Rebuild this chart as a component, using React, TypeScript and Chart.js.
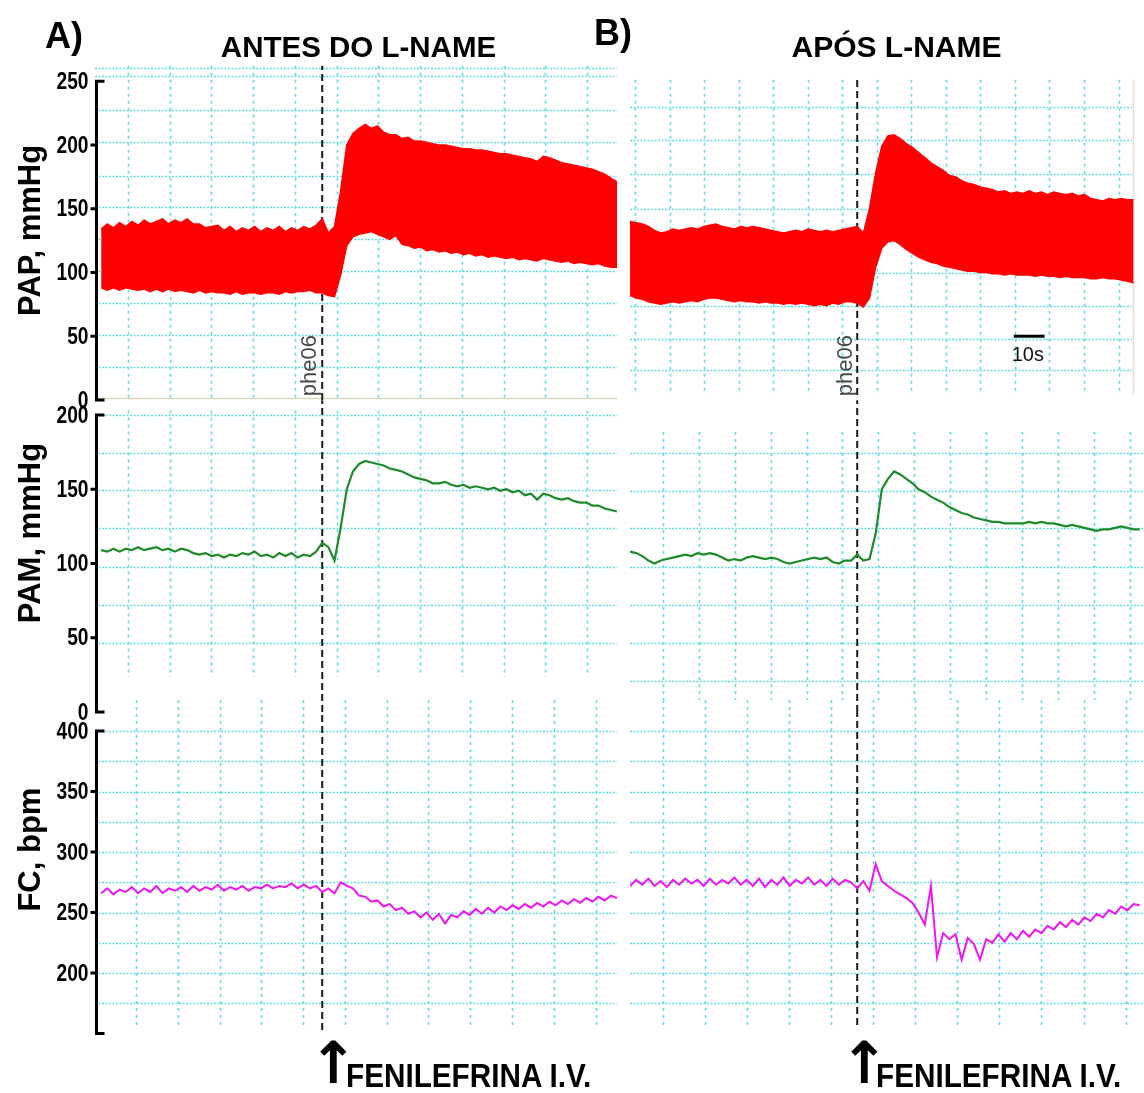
import React, { useEffect, useRef } from 'react';
import { Chart, registerables } from 'chart.js';

Chart.register(...registerables);

const SANS = '"Liberation Sans", Arial, Helvetica, sans-serif';

const RED = '#ff0000';
const GREEN = '#1f8a2a';
const MAGENTA = '#f014f0';
const GRID_COLOR = 'rgb(95, 222, 230)';

// ---------- time axis (seconds) ----------
const A_START = 2;
const B_START = 0;
const STEP = 2;
const EVENT_T = 74;
const A_X_MAX = 170;
const B_X_MAX = 167.4;

// ---------- y tick labels ----------
const PAP_TICKS = [0, 50, 100, 150, 200, 250];
const PAM_TICKS = [0, 50, 100, 150, 200];
const FC_TICKS = [200, 250, 300, 350, 400];

// ---------- A) ANTES DO L-NAME ----------
const PAP_A_SYS = [
  134, 138, 135, 139, 136, 140, 137, 141, 138, 140,
  142, 138, 141, 139, 142, 138, 138, 135, 136, 137,
  133, 136, 132, 135, 133, 136, 132, 135, 133, 136,
  132, 135, 133, 136, 134, 137, 142, 131, 136, 164,
  200, 209, 213, 216, 213, 215, 210, 208, 208, 205,
  206, 203, 203, 202, 201, 200, 200, 199, 198, 197,
  197, 196, 196, 195, 194, 193, 193, 192, 191, 190,
  189, 187, 191, 190, 188, 186, 185, 184, 183, 182,
  181, 179, 177, 174, 171,
];
const PAP_A_DIA = [
  88, 86, 88, 86, 88, 87, 86, 87, 85, 87,
  85, 87, 85, 86, 85, 84, 86, 84, 85, 84,
  84, 83, 85, 83, 84, 84, 83, 84, 84, 83,
  85, 84, 85, 85, 86, 84, 84, 82, 81, 98,
  121, 128, 130, 131, 132, 130, 128, 126, 129, 122,
  121, 119, 120, 117, 118, 116, 117, 115, 116, 114,
  115, 113, 114, 112, 113, 112, 111, 112, 110, 111,
  110, 109, 111, 110, 109, 108, 109, 107, 108, 107,
  106, 107, 105, 104, 104,
];
const PAM_A = [
  109, 108, 110, 108, 110, 109, 111, 109, 110, 111,
  109, 110, 108, 110, 109, 107, 106, 107, 105, 106,
  104, 106, 105, 107, 106, 108, 105, 106, 104, 107,
  105, 107, 104, 106, 105, 108, 114, 111, 102, 124,
  150, 162, 167, 169, 168, 167, 166, 164, 163, 162,
  160, 158, 157, 156, 154, 154, 155, 153, 152, 153,
  151, 152, 151, 150, 151, 149, 150, 148, 149, 146,
  147, 143, 147, 146, 144, 143, 144, 142, 141, 141,
  139, 139, 137, 136, 135,
];
const FC_A = [
  266, 270, 265, 269, 267, 271, 266, 270, 267, 272,
  266, 270, 268, 271, 267, 272, 268, 271, 269, 273,
  268, 271, 269, 272, 268, 271, 270, 273, 270, 272,
  271, 274, 270, 273, 270, 272, 267, 270, 266, 275,
  272, 270, 264, 263, 259, 260, 255, 257, 252, 254,
  249, 251, 246, 250, 244, 249, 241, 248, 246, 251,
  248, 253, 249, 254, 250, 255, 252, 256, 253, 257,
  254, 258, 255, 259, 256, 260, 257, 261, 258, 262,
  259, 263, 260, 264, 262,
];

// ---------- B) APÓS L-NAME ----------
const PAP_B_SYS = [
  140, 139, 138, 136, 133, 131, 132, 134, 133, 134,
  135, 134, 136, 137, 138, 136, 135, 134, 136, 135,
  136, 135, 134, 133, 132, 131, 132, 133, 132, 134,
  133, 132, 133, 132, 133, 134, 135, 136, 131, 150,
  178, 199, 207, 208, 205, 201, 198, 194, 190, 186,
  183, 180, 176, 175, 172, 170, 169, 167, 166, 165,
  163, 164, 162, 163, 162, 164, 162, 163, 161, 163,
  162, 161, 162, 160, 161, 158, 157, 156, 158, 157,
  158, 157, 157,
];
const PAP_B_DIA = [
  82, 80, 79, 77, 76, 75, 76, 77, 76, 77,
  78, 77, 79, 80, 80, 79, 78, 77, 78, 77,
  77, 76, 77, 76, 76, 75, 76, 75, 76, 75,
  74, 75, 74, 76, 75, 77, 77, 76, 73, 80,
  104, 119, 124, 125, 122, 118, 115, 112, 110, 108,
  107, 105, 104, 103, 102, 101, 101, 100, 100, 99,
  99, 98, 99, 98, 98, 98, 97, 98, 97, 97,
  96, 97, 96, 96, 96, 95, 95, 96, 95, 95,
  94, 93, 92,
];
const PAM_B = [
  108, 107, 105, 102, 100, 102, 103, 104, 105, 106,
  105, 107, 106, 107, 106, 104, 102, 103, 102, 104,
  105, 104, 103, 104, 103, 101, 100, 101, 102, 103,
  104, 103, 104, 101, 100, 102, 102, 106, 102, 103,
  120, 150, 157, 162, 160, 157, 154, 150, 148, 145,
  143, 141, 138, 136, 134, 133, 131, 130, 129, 128,
  128, 127, 127, 127, 127, 128, 127, 128, 127, 127,
  126, 125, 126, 125, 124, 123, 122, 123, 123, 124,
  125, 124, 123, 123,
];
const FC_B = [
  272, 277, 273, 278, 272, 276, 271, 277, 273, 278,
  274, 277, 272, 278, 273, 277, 274, 279, 273, 277,
  272, 278, 271, 277, 273, 279, 272, 277, 274, 279,
  273, 277, 272, 278, 273, 277, 275, 270, 276, 268,
  290, 276, 272, 268, 265, 262, 258, 250, 240, 272,
  213, 233, 228, 232, 211, 229, 224, 211, 228, 225,
  232, 226, 233, 228, 235, 230, 236, 233, 239, 236,
  242, 238, 244, 240, 246, 243, 249, 246, 252, 249,
  255, 252, 257, 256,
];

// ---------- recorder grid (data units) ----------
const GRID_A_X_TOP = [10.7, 24.3, 37.9, 51.5, 65.1, 78.7, 92.3, 105.9, 119.5, 133.1, 146.7, 160.3];
const GRID_A_X_FC = [13.4, 27.0, 40.6, 54.2, 67.8, 81.4, 95.0, 108.6, 122.2, 135.8, 149.4, 163.0];
const GRID_B_X_PAP = [1.6, 12.9, 24.1, 35.4, 46.6, 57.9, 69.1, 80.4, 91.6, 102.9, 114.1, 125.4, 136.6, 147.9, 159.1];
const GRID_B_X_PAM = [10.7, 22.4, 34.1, 45.8, 57.5, 69.2, 80.9, 92.6, 104.3, 116.0, 127.7, 139.4, 151.1, 162.8];
const GRID_B_X_FC = [10.7, 24.4, 38.1, 51.8, 65.5, 79.2, 92.9, 106.6, 120.3, 134.0, 147.7, 161.4];
const GRID_A_Y_PAP = [26, 51, 76, 101, 126, 151, 176, 202, 227, 254, 260];
const GRID_B_Y_PAP = [23.5, 48, 74, 99.5, 124, 150, 177, 204, 229.6];
const GRID_A_Y_PAM = [46.5, 72, 97.6, 123.9, 149.5, 174.4, 200];
const GRID_B_Y_PAM = [20.9, 46.5, 72, 97.6, 123.9, 148.8, 174.4];
const GRID_Y_FC = [175, 200, 225, 250, 275, 300, 325, 350, 375, 400];

type Decor = {
  hLines: number[];
  hRange: [number, number];
  vLines: number[];
  vRange: [number, number];
  axis?: { from: number; to: number; ticks: number[]; labels: number[] };
  title?: { text: string; at: number; x: number };
  zeroLine?: { at: number; from: number; to: number };
  border?: { t: number; from: number; to: number };
  marker?: { text: string; t: number; at: number; dx: number };
  scaleBar?: { t0: number; t1: number; at: number; label: string; labelT: number; labelAt: number };
};

function makeDecor(d: Decor) {
  return {
    id: 'decor',
    beforeDatasetsDraw(chart: any) {
      const { ctx, scales } = chart;
      const xs = scales.x;
      const ys = scales.y;
      ctx.save();
      if (d.zeroLine) {
        const py = Math.round(ys.getPixelForValue(d.zeroLine.at)) + 0.5;
        ctx.strokeStyle = '#ddd6c4';
        ctx.lineWidth = 1.5;
        ctx.setLineDash([]);
        ctx.beginPath();
        ctx.moveTo(xs.getPixelForValue(d.zeroLine.from), py);
        ctx.lineTo(xs.getPixelForValue(d.zeroLine.to), py);
        ctx.stroke();
      }
      if (d.border) {
        const px = Math.round(xs.getPixelForValue(d.border.t)) + 0.5;
        ctx.strokeStyle = '#e4e0d4';
        ctx.lineWidth = 1.5;
        ctx.setLineDash([]);
        ctx.beginPath();
        ctx.moveTo(px, ys.getPixelForValue(d.border.to));
        ctx.lineTo(px, ys.getPixelForValue(d.border.from));
        ctx.stroke();
      }
      ctx.strokeStyle = GRID_COLOR;
      ctx.lineWidth = 1.5;
      ctx.setLineDash([2, 1.5]);
      const hx0 = xs.getPixelForValue(d.hRange[0]);
      const hx1 = xs.getPixelForValue(d.hRange[1]);
      for (const v of d.hLines) {
        const py = Math.round(ys.getPixelForValue(v)) + 0.5;
        ctx.beginPath();
        ctx.moveTo(hx0, py);
        ctx.lineTo(hx1, py);
        ctx.stroke();
      }
      ctx.lineWidth = 1.6;
      ctx.setLineDash([3, 4]);
      const vy0 = ys.getPixelForValue(d.vRange[1]);
      const vy1 = ys.getPixelForValue(d.vRange[0]);
      for (const t of d.vLines) {
        const px = Math.round(xs.getPixelForValue(t)) + 0.5;
        ctx.beginPath();
        ctx.moveTo(px, vy0);
        ctx.lineTo(px, vy1);
        ctx.stroke();
      }
      ctx.restore();
    },
    afterDraw(chart: any) {
      const { ctx, scales, chartArea } = chart;
      const xs = scales.x;
      const ys = scales.y;
      ctx.save();
      ctx.setLineDash([]);
      if (d.axis) {
        const ax = chartArea.left + 1.5;
        const yTop = ys.getPixelForValue(d.axis.to);
        const yBot = ys.getPixelForValue(d.axis.from);
        ctx.strokeStyle = '#000';
        ctx.lineWidth = 3;
        ctx.lineJoin = 'miter';
        ctx.beginPath();
        ctx.moveTo(ax + 8, yTop);
        ctx.lineTo(ax, yTop);
        ctx.lineTo(ax, yBot);
        ctx.lineTo(ax + 8, yBot);
        ctx.stroke();
        ctx.beginPath();
        for (const v of d.axis.ticks) {
          const py = ys.getPixelForValue(v);
          ctx.moveTo(ax - 6, py);
          ctx.lineTo(ax, py);
        }
        ctx.stroke();
        // tick labels: condensed bold numerals
        ctx.fillStyle = '#000';
        ctx.font = `bold 24px ${SANS}`;
        ctx.textAlign = 'right';
        ctx.textBaseline = 'middle';
        for (const v of d.axis.labels) {
          const py = ys.getPixelForValue(v);
          ctx.save();
          ctx.translate(ax - 8, py + 1);
          ctx.scale(0.8, 1);
          ctx.fillText(String(v), 0, 0);
          ctx.restore();
        }
      }
      if (d.title) {
        const cy = ys.getPixelForValue(d.title.at);
        ctx.save();
        ctx.translate(d.title.x, cy);
        ctx.rotate(-Math.PI / 2);
        ctx.fillStyle = '#000';
        ctx.font = `bold 31px ${SANS}`;
        ctx.textAlign = 'center';
        ctx.textBaseline = 'alphabetic';
        ctx.fillText(d.title.text, 0, 0);
        ctx.restore();
      }
      if (d.marker) {
        const px = xs.getPixelForValue(d.marker.t) + d.marker.dx;
        const py = ys.getPixelForValue(d.marker.at);
        ctx.save();
        ctx.translate(px, py);
        ctx.rotate(-Math.PI / 2);
        ctx.fillStyle = '#4a4a4a';
        ctx.font = `22px ${SANS}`;
        ctx.textAlign = 'left';
        ctx.textBaseline = 'alphabetic';
        ctx.fillText(d.marker.text, 0, 0);
        ctx.restore();
      }
      if (d.scaleBar) {
        const sb = d.scaleBar;
        const py = ys.getPixelForValue(sb.at);
        ctx.strokeStyle = '#000';
        ctx.lineWidth = 3;
        ctx.beginPath();
        ctx.moveTo(xs.getPixelForValue(sb.t0), py);
        ctx.lineTo(xs.getPixelForValue(sb.t1), py);
        ctx.stroke();
        ctx.fillStyle = '#111';
        ctx.font = `20px ${SANS}`;
        ctx.textAlign = 'left';
        ctx.textBaseline = 'alphabetic';
        ctx.fillText(sb.label, xs.getPixelForValue(sb.labelT), ys.getPixelForValue(sb.labelAt));
      }
      ctx.restore();
    },
  };
}

const pts = (vals: number[], start: number) => vals.map((v, i) => ({ x: start + i * STEP, y: v }));

const eventLine = (y0: number, y1: number) => ({
  data: [{ x: EVENT_T, y: y0 }, { x: EVENT_T, y: y1 }],
  borderColor: '#1a1a1a',
  borderWidth: 2,
  borderDash: [7, 4],
  pointRadius: 0,
  fill: false,
});

const papSets = (sys: number[], dia: number[], start: number) => [
  { data: pts(sys, start), borderColor: RED, backgroundColor: RED, borderWidth: 1.5, pointRadius: 0, fill: '+1', tension: 0 },
  { data: pts(dia, start), borderColor: RED, backgroundColor: RED, borderWidth: 1.5, pointRadius: 0, fill: false, tension: 0 },
];
const lineSet = (vals: number[], start: number, color: string, w: number) => ({
  data: pts(vals, start), borderColor: color, borderWidth: w, pointRadius: 0, fill: false, tension: 0,
});

type Panel = {
  left: number; top: number; width: number; height: number;
  padLeft: number; padRight: number;
  xMax: number; yMin: number; yMax: number;
  datasets: any[];
  decor: Decor;
};

const PAD_V = 30;

const PANELS: Panel[] = [
  {
    left: 0, top: 32, width: 620, height: 398, padLeft: 95, padRight: 3,
    xMax: A_X_MAX, yMin: 0, yMax: 265,
    datasets: [...papSets(PAP_A_SYS, PAP_A_DIA, A_START), eventLine(0, 262)],
    decor: {
      hLines: GRID_A_Y_PAP, hRange: [0, A_X_MAX], vLines: GRID_A_X_TOP, vRange: [0.5, 262],
      axis: { from: 0, to: 250, ticks: [50, 100, 150, 200], labels: PAP_TICKS },
      title: { text: 'PAP, mmHg', at: 133, x: 40 },
      zeroLine: { at: 1.5, from: 0, to: A_X_MAX },
      marker: { text: 'phe06', t: EVENT_T, at: 3, dx: -6 },
    },
  },
  {
    left: 0, top: 370, width: 620, height: 372, padLeft: 95, padRight: 3,
    xMax: A_X_MAX, yMin: 0, yMax: 210.1,
    datasets: [lineSet(PAM_A, A_START, GREEN, 2.2), eventLine(0, 210)],
    decor: {
      hLines: GRID_A_Y_PAM, hRange: [0, A_X_MAX], vLines: GRID_A_X_TOP, vRange: [23.6, 203],
      axis: { from: 0, to: 200, ticks: [50, 100, 150], labels: PAM_TICKS },
      title: { text: 'PAM, mmHg', at: 120.5, x: 40 },
    },
  },
  {
    left: 0, top: 668, width: 620, height: 398, padLeft: 95, padRight: 3,
    xMax: A_X_MAX, yMin: 148, yMax: 427.27,
    datasets: [lineSet(FC_A, A_START, MAGENTA, 2), eventLine(153, 415.7)],
    decor: {
      hLines: GRID_Y_FC, hRange: [0, A_X_MAX], vLines: GRID_A_X_FC, vRange: [154.5, 425.6],
      axis: { from: 150, to: 400, ticks: [200, 250, 300, 350], labels: FC_TICKS },
      title: { text: 'FC, bpm', at: 302, x: 40 },
    },
  },
  {
    left: 620, top: 32, width: 524, height: 398, padLeft: 10, padRight: 0,
    xMax: B_X_MAX, yMin: 0, yMax: 265,
    datasets: [...papSets(PAP_B_SYS, PAP_B_DIA, B_START), eventLine(4, 252)],
    decor: {
      hLines: GRID_B_Y_PAP, hRange: [0, 163.5], vLines: GRID_B_X_PAP, vRange: [4, 251],
      border: { t: 163.7, from: 4, to: 251 },
      marker: { text: 'phe06', t: EVENT_T, at: 3, dx: -5 },
      scaleBar: { t0: 125, t1: 135, at: 50, label: '10s', labelT: 124.3, labelAt: 30.5 },
    },
  },
  {
    left: 620, top: 370, width: 524, height: 372, padLeft: 10, padRight: 0,
    xMax: B_X_MAX, yMin: 0, yMax: 210.1,
    datasets: [lineSet(PAM_B, B_START, GREEN, 2.2), eventLine(0, 210)],
    decor: {
      hLines: GRID_B_Y_PAM, hRange: [0, B_X_MAX], vLines: GRID_B_X_PAM, vRange: [8, 188.6],
    },
  },
  {
    left: 620, top: 668, width: 524, height: 398, padLeft: 10, padRight: 0,
    xMax: B_X_MAX, yMin: 148, yMax: 427.27,
    datasets: [lineSet(FC_B, B_START, MAGENTA, 2), eventLine(157, 415.7)],
    decor: {
      hLines: GRID_Y_FC, hRange: [0, B_X_MAX], vLines: GRID_B_X_FC, vRange: [154.5, 425.6],
    },
  },
];

function buildConfig(p: Panel): any {
  return {
    type: 'line',
    data: { datasets: p.datasets },
    plugins: [makeDecor(p.decor)],
    options: {
      animation: false,
      responsive: false,
      maintainAspectRatio: false,
      events: [],
      layout: { padding: { top: PAD_V, bottom: PAD_V, left: p.padLeft, right: p.padRight } },
      plugins: { legend: { display: false }, tooltip: { enabled: false }, title: { display: false } },
      scales: {
        x: { type: 'linear', min: 0, max: p.xMax, display: false },
        y: { type: 'linear', min: p.yMin, max: p.yMax, display: false },
      },
    },
  };
}

function PanelChart({ p }: { p: Panel }) {
  const ref = useRef<HTMLCanvasElement>(null);
  useEffect(() => {
    if (!ref.current) return;
    const chart = new Chart(ref.current, buildConfig(p));
    return () => chart.destroy();
  }, [p]);
  return (
    <canvas
      ref={ref}
      width={p.width}
      height={p.height}
      style={{ position: 'absolute', left: p.left, top: p.top, width: p.width, height: p.height }}
    />
  );
}

const txt = (extra: React.CSSProperties): React.CSSProperties => ({
  position: 'absolute', whiteSpace: 'nowrap', lineHeight: 1, color: '#000', fontFamily: SANS, fontWeight: 'bold', ...extra,
});

export default function App() {
  return (
    <div style={{ position: 'absolute', left: 0, top: 0, width: 1144, height: 1093, background: '#fff', overflow: 'hidden' }}>
      {PANELS.map((p, i) => <PanelChart key={i} p={p} />)}
      <div style={txt({ left: 45, top: 18, fontSize: 36 })}>A)</div>
      <div style={txt({ left: 594, top: 15, fontSize: 36 })}>B)</div>
      <div style={txt({ left: 358.5, top: 31.7, fontSize: 29.5, transform: 'translateX(-50%)' })}>ANTES DO L-NAME</div>
      <div style={txt({ left: 896.5, top: 31.7, fontSize: 30, transform: 'translateX(-50%)' })}>APÓS L-NAME</div>
      <div style={txt({ left: 309, top: 1034, fontSize: 58, fontFamily: '"DejaVu Sans", sans-serif' })}>↑</div>
      <div style={txt({ left: 346, top: 1059, fontSize: 33, transform: 'scaleX(0.9)', transformOrigin: 'left top' })}>FENILEFRINA I.V.</div>
      <div style={txt({ left: 840, top: 1034, fontSize: 58, fontFamily: '"DejaVu Sans", sans-serif' })}>↑</div>
      <div style={txt({ left: 876, top: 1059, fontSize: 33, transform: 'scaleX(0.9)', transformOrigin: 'left top' })}>FENILEFRINA I.V.</div>
    </div>
  );
}
